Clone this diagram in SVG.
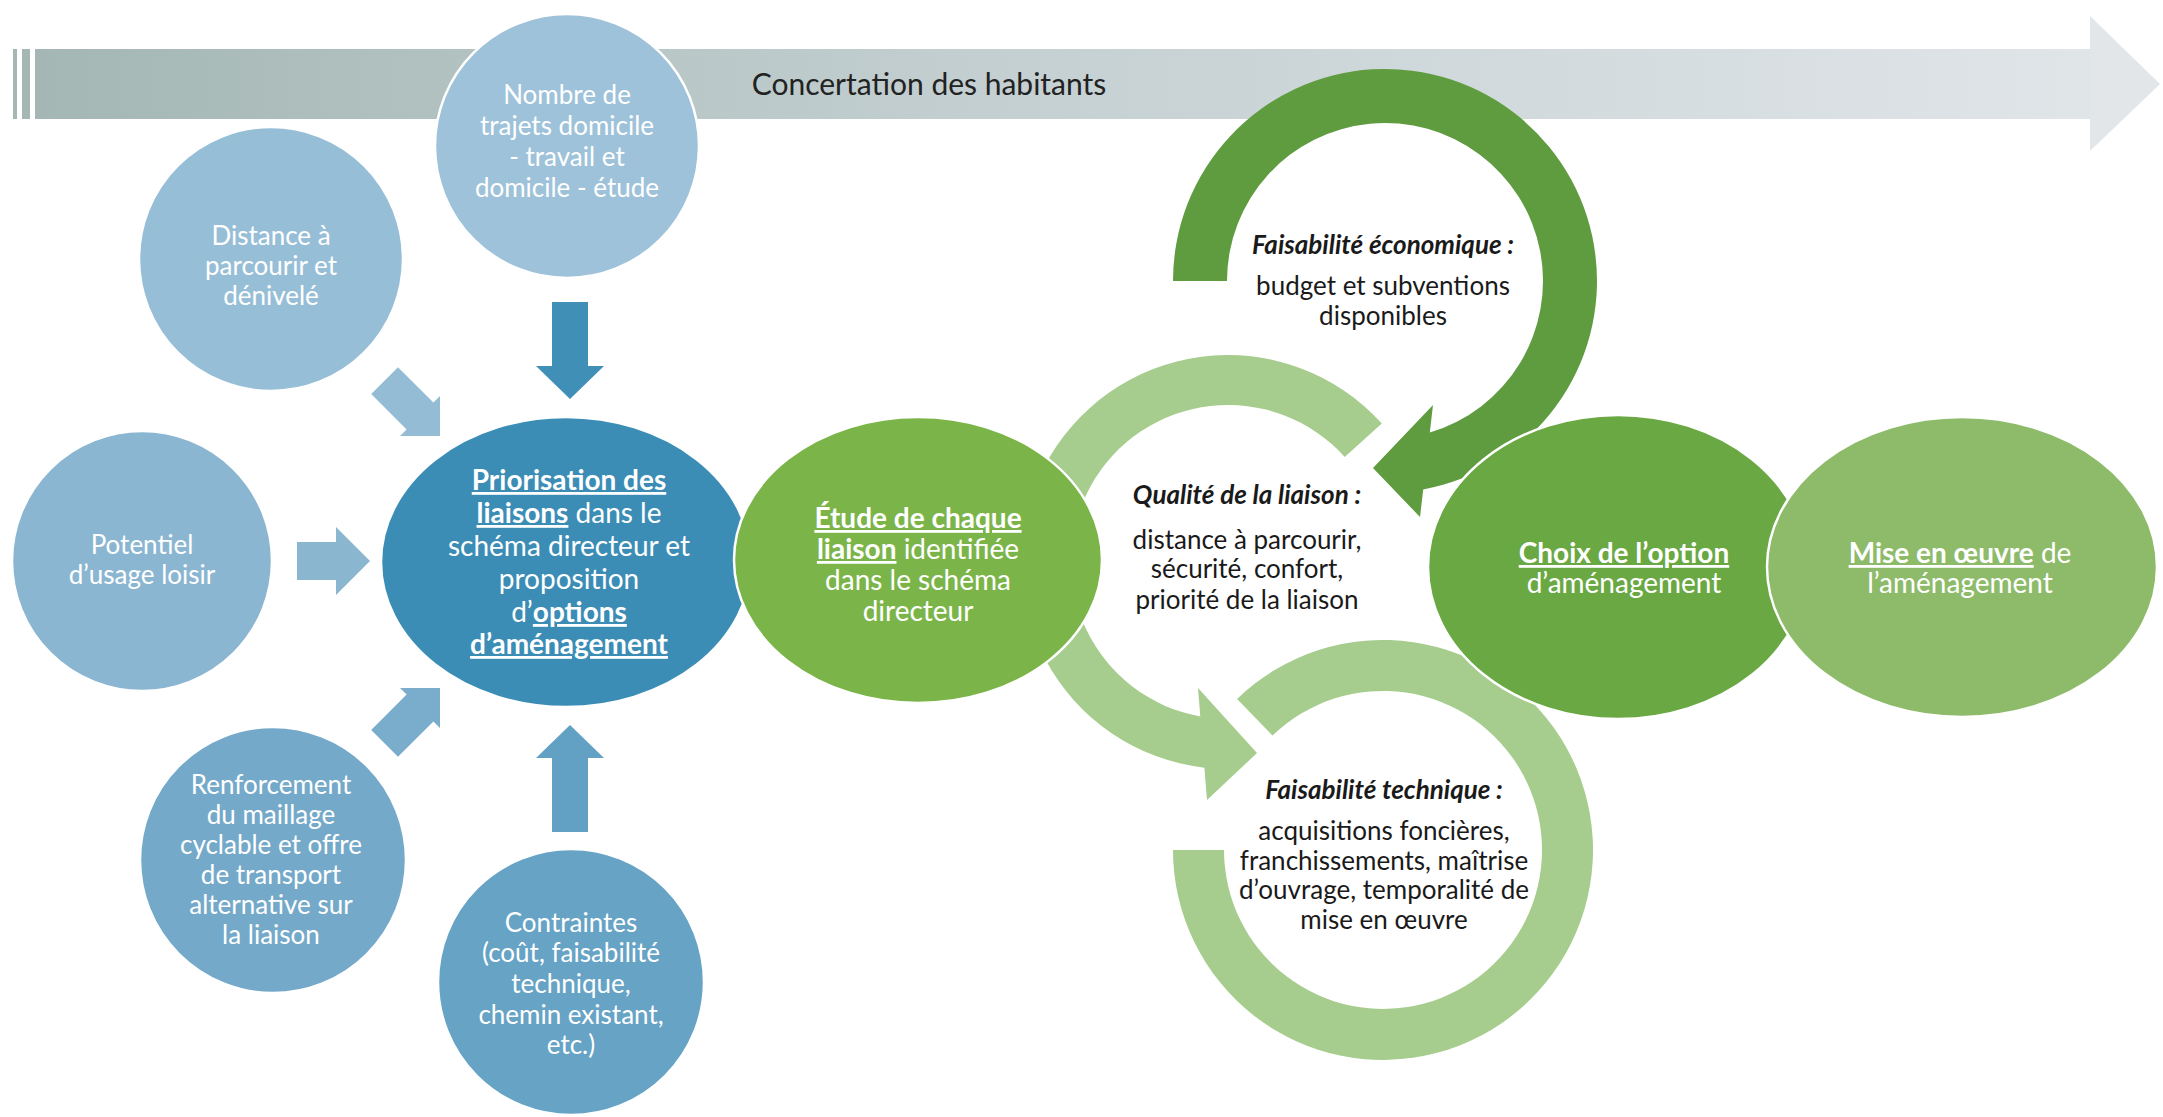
<svg xmlns="http://www.w3.org/2000/svg" width="2163" height="1117" viewBox="0 0 2163 1117">
<defs>
<linearGradient id="barGrad" x1="0" y1="0" x2="1" y2="0">
<stop offset="0" stop-color="#a4b7b4"/>
<stop offset="0.5" stop-color="#c6d1d3"/>
<stop offset="1" stop-color="#e0e5e8"/>
</linearGradient>
<style>
.t{font-family:Lato,"Open Sans","Liberation Sans",sans-serif;text-anchor:middle}
.w{fill:#ffffff;font-size:26px}
.wb{fill:#ffffff;font-size:28px}
.d{fill:#1a1a1a;font-size:26px}
.b{font-weight:bold}
.u{text-decoration:underline}
.hi{font-weight:bold;font-style:italic}
.node{stroke:#ffffff;stroke-width:2.5}
</style>
</defs>
<rect width="2163" height="1117" fill="#ffffff"/>

<g id="banner">
<rect x="13" y="49" width="4" height="70" fill="#a4b7b4"/>
<rect x="22" y="49" width="8" height="70" fill="#a4b7b4"/>
<rect x="35" y="49" width="2056" height="70" fill="url(#barGrad)"/>
<polygon points="2090,16 2160,84 2090,151" fill="#e2e6e9"/>
<text class="t" x="929" y="95" style="font-size:30px;fill:#222222">Concertation des habitants</text>
</g>

<g id="node-nombre">
<circle class="node" cx="567" cy="146" r="132" fill="#9ec2d9"/>
<text class="t w"><tspan x="567" y="104">Nombre de</tspan><tspan x="567" y="135">trajets domicile</tspan><tspan x="567" y="166">- travail et</tspan><tspan x="567" y="197">domicile - étude</tspan></text>
</g>
<g id="node-distance">
<circle class="node" cx="271" cy="259" r="132" fill="#97bed7"/>
<text class="t w"><tspan x="271" y="245">Distance à</tspan><tspan x="271" y="275">parcourir et</tspan><tspan x="271" y="305">dénivelé</tspan></text>
</g>
<g id="node-potentiel">
<circle class="node" cx="142" cy="561" r="130" fill="#8bb6d1"/>
<text class="t w"><tspan x="142" y="554">Potentiel</tspan><tspan x="142" y="584">d’usage loisir</tspan></text>
</g>
<g id="node-renforcement">
<circle class="node" cx="273" cy="860" r="133" fill="#74a9c9"/>
<text class="t w"><tspan x="271" y="794">Renforcement</tspan><tspan x="271" y="824">du maillage</tspan><tspan x="271" y="854">cyclable et offre</tspan><tspan x="271" y="884">de transport</tspan><tspan x="271" y="914">alternative sur</tspan><tspan x="271" y="944">la liaison</tspan></text>
</g>
<g id="node-contraintes">
<circle class="node" cx="571" cy="982" r="133" fill="#66a3c5"/>
<text class="t w"><tspan x="571" y="932">Contraintes</tspan><tspan x="571" y="962">(coût, faisabilité</tspan><tspan x="571" y="993">technique,</tspan><tspan x="571" y="1024">chemin existant,</tspan><tspan x="571" y="1054">etc.)</tspan></text>
</g>

<g id="connectors">
<polygon points="552,302 588,302 588,366 604,366 570,399 536,366 552,366" fill="#3f8fb6"/>
<polygon points="552,832 588,832 588,758 604,758 570,725 536,758 552,758" fill="#62a0c4"/>
<polygon points="297,542 336,542 336,527 370,561 336,595 336,580 297,580" fill="#8ab6d0"/>
<polygon points="398,367.2 433.4,402.6 440,396 440,436 400,436 406.6,429.4 371.2,394" fill="#94bdd5"/>
<polygon points="398,756.8 433.4,721.4 440,728 440,688 400,688 406.6,694.6 371.2,730" fill="#7aadcc"/>
<path id="ring-qualite" d="M1381.8,423.5 A207,207 0 1 0 1204.4,767.7 L1207,800 L1257,753 L1198,688 L1200.3,716.5 A157,157 0 1 1 1344.7,456.9 Z" fill="#a6cd8d"/>
<path id="ring-technique" d="M1173,850 A210,210 0 1 0 1237.1,698.9 L1272.5,735.6 A159,159 0 1 1 1224,850 Z" fill="#a6cd8d"/>
<path id="ring-economique" d="M1173,281 A212,212 0 1 1 1423.2,489.5 L1420,517 L1373,468 L1433,405 L1429.8,432.5 A158,158 0 1 0 1227,281 Z" fill="#5f9b3f"/>
</g>

<g id="node-priorisation">
<ellipse class="node" cx="566" cy="562" rx="185" ry="145" fill="#3b8db6"/>
<text class="t wb"><tspan x="569" y="490" class="b u">Priorisation des</tspan><tspan x="569" y="523"><tspan class="b u">liaisons</tspan> dans le</tspan><tspan x="569" y="556">schéma directeur et</tspan><tspan x="569" y="589">proposition</tspan><tspan x="569" y="622">d’<tspan class="b u">options</tspan></tspan><tspan x="569" y="654" class="b u">d’aménagement</tspan></text>
</g>

<g id="node-etude">
<ellipse class="node" cx="918" cy="560" rx="184" ry="143" fill="#7bb549"/>
<text class="t wb"><tspan x="918" y="528" class="b u">Étude de chaque</tspan><tspan x="918" y="559"><tspan class="b u">liaison</tspan> identifiée</tspan><tspan x="918" y="590">dans le schéma</tspan><tspan x="918" y="621">directeur</tspan></text>
</g>

<g id="node-choix">
<ellipse class="node" cx="1618" cy="567" rx="190" ry="152" fill="#6aa843"/>
<text class="t wb"><tspan x="1624" y="563" class="b u">Choix de l’option</tspan><tspan x="1624" y="593">d’aménagement</tspan></text>
</g>

<g id="node-mise">
<ellipse class="node" cx="1962" cy="567" rx="195" ry="150" fill="#8dbb6a"/>
<text class="t wb"><tspan x="1960" y="563"><tspan class="b u">Mise en œuvre</tspan> de</tspan><tspan x="1960" y="593">l’aménagement</tspan></text>
</g>

<g id="label-economique">
<text class="t d"><tspan x="1383" y="254" class="hi">Faisabilité économique :</tspan><tspan x="1383" y="295">budget et subventions</tspan><tspan x="1383" y="325">disponibles</tspan></text>
</g>
<g id="label-qualite">
<text class="t d"><tspan x="1247" y="504" class="hi">Qualité de la liaison :</tspan><tspan x="1247" y="549">distance à parcourir,</tspan><tspan x="1247" y="578">sécurité, confort,</tspan><tspan x="1247" y="609">priorité de la liaison</tspan></text>
</g>
<g id="label-technique">
<text class="t d"><tspan x="1384" y="799" class="hi">Faisabilité technique :</tspan><tspan x="1384" y="840">acquisitions foncières,</tspan><tspan x="1384" y="870">franchissements, maîtrise</tspan><tspan x="1384" y="899">d’ouvrage, temporalité de</tspan><tspan x="1384" y="929">mise en œuvre</tspan></text>
</g>
</svg>
